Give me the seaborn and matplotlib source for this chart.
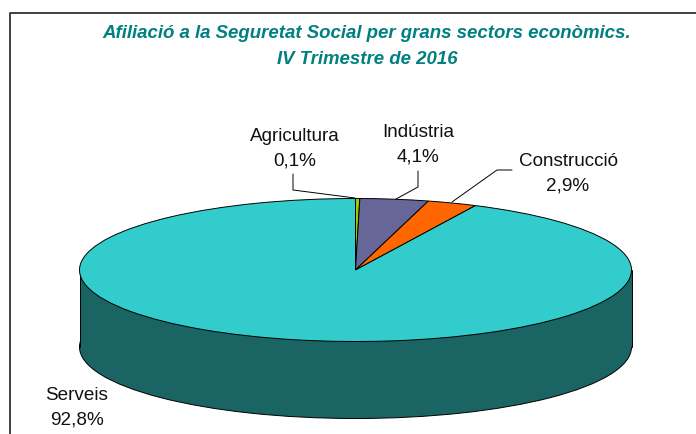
import matplotlib.pyplot as plt
import seaborn as sns

# Data
sectors = ["Agricultura", "Indústria", "Construcció", "Serveis"]
# agricultura is printed as 0,1% but its slice is drawn wider than that in the picture
shares = [0.25, 4.0, 2.9, 92.8]
share_labels = ["0,1%", "4,1%", "2,9%", "92,8%"]
top_colors = ["#99CC00", "#666699", "#FF6600", "#33CCCC"]
side_color = "#1A6464"
title_lines = "Afiliació a la Seguretat Social per grans sectors econòmics.\nIV Trimestre de 2016"

W, H = 696, 435
CX, CY, RX, RY = 355.5, 271, 276, 71.5
DEPTH = 77


# pixel position -> data position
def px(x, y):
    return (x - CX) / RX, (CY - y) / RY


sns.set_theme(style="white")
plt.rcParams["font.family"] = ["Liberation Sans", "DejaVu Sans"]

fig = plt.figure(figsize=(W / 100, H / 100), dpi=100, facecolor="white")
ax = fig.add_axes([0, 0, 1, 1])

# bottom of the cylinder, then the wall, then the top face
depth = DEPTH / RY
ax.pie([1], radius=1, center=(0, -depth), colors=[side_color],
       wedgeprops={"edgecolor": "black", "linewidth": 0.7})
ax.fill_between([-1, 1], [-depth, -depth], [0, 0], color=side_color, lw=0, zorder=2)
ax.plot([-1, -1], [-depth, 0], color="black", lw=0.7, zorder=3)
ax.plot([1, 1], [-depth, 0], color="black", lw=0.7, zorder=3)
wedges, _ = ax.pie(shares, radius=1, startangle=90, counterclock=False, colors=top_colors,
                   wedgeprops={"edgecolor": "black", "linewidth": 0.7})
for w in wedges:
    w.set_zorder(4)

ax.set_aspect("auto")
ax.set_xlim(-CX / RX, (W - CX) / RX)
ax.set_ylim((CY - H) / RY, CY / RY)
ax.axis("off")

# frame, open on the right and at the bottom
fig.add_artist(plt.Line2D([10 / W, 10 / W, 1], [0, 1 - 14 / H, 1 - 14 / H], color="#333333", lw=1.3))

# title
fig.text(367 / W, 1 - 46.5 / H, title_lines, ha="center", va="center", color="#008080",
         fontsize=13.4, fontweight="bold", fontstyle="italic", linespacing=1.68)

# labels
label_pos = [(295, 148.5), (418, 144.5), (568, 174), (77, 408)]
for name, value, (x, y) in zip(sectors, share_labels, label_pos):
    ax.text(*px(x, y), f"{name}\n{value}", ha="center", va="center", fontsize=13.6,
            color="#111111", linespacing=1.55, zorder=6)

# leader lines
leaders = [
    [(293, 175), (293, 191), (355, 199)],
    [(418, 172), (418, 188), (396, 200)],
    [(512, 171), (497, 171), (452, 203)],
]
for line in leaders:
    pts = [px(*p) for p in line]
    ax.plot([p[0] for p in pts], [p[1] for p in pts], color="black", lw=0.7, zorder=5)

fig.savefig("out.png", dpi=100)
